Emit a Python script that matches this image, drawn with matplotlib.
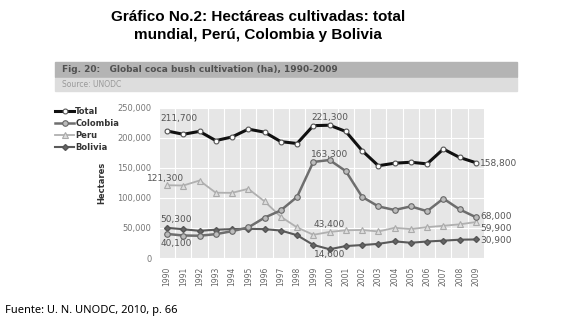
import numpy as np
import matplotlib.pyplot as plt
from matplotlib.patches import Rectangle

years = list(range(1990, 2010))
total = [211700, 206200, 211000, 195700, 201700, 214800, 209700, 194000, 190800, 220600,
         221300, 210900, 179000, 153800, 158000, 159600, 156900, 181600, 167600, 158800]
colombia = [40100, 37500, 37100, 39700, 44700, 50900, 67200, 79400, 101800, 160100,
            163300, 144800, 102000, 86000, 80000, 86000, 78000, 99000, 81000, 68000]
peru = [121300, 120800, 129100, 108800, 108600, 115300, 94400, 68800, 51000, 38700,
        43400, 46200, 46700, 44200, 50300, 48200, 51400, 53700, 56100, 59900]
bolivia = [50300, 47900, 45300, 47200, 48100, 48600, 48100, 45800, 38000, 21800,
           14600, 19900, 21600, 23600, 27700, 25400, 27500, 28900, 30500, 30900]

title = "Gráfico No.2: Hectáreas cultivadas: total\nmundial, Perú, Colombia y Bolivia"
fig_title = "Fig. 20:   Global coca bush cultivation (ha), 1990-2009"
footer = "Fuente: U. N. UNODC, 2010, p. 66"

fig = plt.figure(figsize=(5.8, 3.22), dpi=100)
W, H = 580, 322

def fx(px):
    return px / W

def fy(py):
    return 1 - py / H

fig.text(fx(258), fy(26), title, ha='center', va='center', fontsize=11,
         fontweight='bold', family='Liberation Sans', linespacing=1.3)

# header bands
fig.patches.append(Rectangle((fx(55), fy(77)), fx(517) - fx(55), fy(62) - fy(77),
                             transform=fig.transFigure, color='#b4b4b4', zorder=0))
fig.patches.append(Rectangle((fx(55), fy(91)), fx(517) - fx(55), fy(78) - fy(91),
                             transform=fig.transFigure, color='#dddddd', zorder=0))
fig.text(fx(62), fy(70), fig_title, ha='left', va='center', fontsize=6.5,
         fontweight='bold', color='#505050')
fig.text(fx(62), fy(84.5), "Source: UNODC", ha='left', va='center', fontsize=5.5,
         color='#999999')

ax = fig.add_axes([fx(160), fy(258), fx(484) - fx(160), fy(108) - fy(258)])
ax.set_facecolor('#e6e6e6')
for s in ax.spines.values():
    s.set_visible(False)

l1, = ax.plot(years, total, color='#111111', lw=2.2, marker='o', ms=3.5,
              mfc='white', mec='#555555', mew=0.8, label='Total', zorder=5)
l2, = ax.plot(years, colombia, color='#6e6e6e', lw=1.8, marker='o', ms=4,
              mfc='#bbbbbb', mec='#666666', mew=0.8, label='Colombia', zorder=4)
l3, = ax.plot(years, peru, color='#b0b0b0', lw=1.3, marker='^', ms=4,
              mfc='#dddddd', mec='#aaaaaa', mew=0.8, label='Peru', zorder=3)
l4, = ax.plot(years, bolivia, color='#5a5a5a', lw=1.5, marker='D', ms=3,
              mfc='#666666', mec='#555555', label='Bolivia', zorder=3)

ax.set_xlim(1989.57, 2009.5)
ax.set_ylim(0, 250000)
ax.set_xticks(years)
ax.set_xticklabels([str(y) for y in years], rotation=90, fontsize=5.5, color='#666666')
ax.set_yticks([0, 50000, 100000, 150000, 200000, 250000])
ax.set_yticklabels(['0', '50,000', '100,000', '150,000', '200,000', '250,000'],
                   fontsize=6, color='#777777')
ax.tick_params(length=0, pad=6)
ax.set_xticks([y + 0.5 for y in years[:-1]], minor=True)
ax.tick_params(which='minor', length=0)
ax.grid(True, which='minor', axis='x', color='white', lw=0.8)
ax.grid(True, which='major', axis='y', color='white', lw=0.8)
ax.set_axisbelow(True)
ax.set_ylabel('Hectares', fontsize=6, fontweight='bold', color='#333333', labelpad=8)

lc = '#555555'
fs = 6.5
ax.text(1989.6, total[0] + 14000, '211,700', fontsize=fs, color=lc, ha='left', va='bottom')
ax.text(2000, total[10] + 5000, '221,300', fontsize=fs, color=lc, ha='center', va='bottom')
ax.text(2000, colombia[10] + 2000, '163,300', fontsize=fs, color=lc, ha='center', va='bottom')
ax.text(1989.9, peru[0] + 3000, '121,300', fontsize=fs, color=lc, ha='center', va='bottom')
ax.text(1989.6, bolivia[0] + 6000, '50,300', fontsize=fs, color=lc, ha='left', va='bottom')
ax.text(1989.6, colombia[0] - 8000, '40,100', fontsize=fs, color=lc, ha='left', va='top')
ax.text(2000, peru[10] + 5000, '43,400', fontsize=fs, color=lc, ha='center', va='bottom')
ax.text(2000, bolivia[10] - 1000, '14,600', fontsize=fs, color=lc, ha='center', va='top')
ax.text(2009.25, total[-1] - 2000, '158,800', fontsize=fs, color=lc, ha='left', va='center')
ax.text(2009.25, colombia[-1] + 1500, '68,000', fontsize=fs, color=lc, ha='left', va='center')
ax.text(2009.25, peru[-1] - 10500, '59,900', fontsize=fs, color=lc, ha='left', va='center')
ax.text(2009.25, bolivia[-1] - 2500, '30,900', fontsize=fs, color=lc, ha='left', va='center')

leg = fig.legend(handles=[l1, l2, l3, l4], loc='upper left', bbox_to_anchor=(fx(52), fy(104)),
                 frameon=False, fontsize=6, handlelength=2.2, handletextpad=0.2,
                 labelspacing=0.35, borderaxespad=0)
for t in leg.get_texts():
    t.set_fontweight('bold')
    t.set_color('#333333')

fig.text(fx(5), fy(311), footer, ha='left', va='center', fontsize=8, family='Noto Sans')

fig.savefig('out.png', dpi=100)
